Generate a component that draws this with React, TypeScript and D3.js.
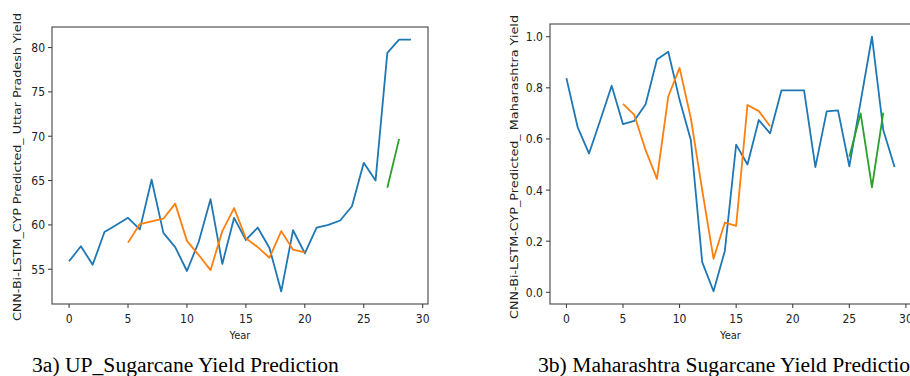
import React, { useEffect, useRef } from "react";
import * as d3 from "d3";

// Uttar Pradesh panel
const upActual = [
  55.9, 57.6, 55.5, 59.2, 60.0, 60.8, 59.5, 65.1, 59.1, 57.5, 54.8, 58.1,
  62.9, 55.6, 60.8, 58.3, 59.7, 57.4, 52.5, 59.4, 56.8, 59.7, 60.0, 60.5,
  62.1, 67.0, 65.0, 79.4, 80.9, 80.9,
];
const upTrain = [
  58.0, 60.1, 60.4, 60.7, 62.4, 58.2, 56.6, 54.9, 59.3, 61.9, 58.5, 57.5,
  56.3, 59.3, 57.2, 56.9,
];
const upTrainStart = 5;
const upTest = [64.2, 69.7];
const upTestStart = 27;
const upTicksY = [55, 60, 65, 70, 75, 80];

// Maharashtra panel
const mhActual = [
  0.838, 0.645, 0.543, 0.674, 0.808, 0.658, 0.671, 0.736, 0.911, 0.941,
  0.753, 0.595, 0.118, 0.004, 0.162, 0.578, 0.5, 0.674, 0.622, 0.79, 0.79,
  0.79, 0.49, 0.708, 0.712, 0.493, 0.746, 1.0, 0.635, 0.49,
];
const mhTrain = [
  0.737, 0.694, 0.556, 0.444, 0.766, 0.878, 0.68, 0.4, 0.131, 0.273, 0.26,
  0.733, 0.709, 0.65,
];
const mhTrainStart = 5;
const mhTest = [0.53, 0.7, 0.411, 0.703];
const mhTestStart = 25;
const mhTicksY = [0.0, 0.2, 0.4, 0.6, 0.8, 1.0];

const xTicks = [0, 5, 10, 15, 20, 25, 30];

interface PanelSpec {
  left: number;
  right: number;
  top: number;
  bottom: number;
  actual: number[];
  train: number[];
  trainStart: number;
  test: number[];
  testStart: number;
  yTicks: number[];
  yFormat: (v: number) => string;
  yLabel: string;
  yLabelX: number;
  yLabelLen: number;
  caption: string;
  captionX: number;
}

const panels: PanelSpec[] = [
  {
    left: 52,
    right: 428,
    top: 27,
    bottom: 304,
    actual: upActual,
    train: upTrain,
    trainStart: upTrainStart,
    test: upTest,
    testStart: upTestStart,
    yTicks: upTicksY,
    yFormat: (v) => String(v),
    yLabel: "CNN-Bi-LSTM_CYP Predicted_ Uttar Pradesh Yield",
    yLabelX: 17,
    yLabelLen: 308,
    caption: "3a) UP_Sugarcane Yield Prediction",
    captionX: 32,
  },
  {
    left: 550,
    right: 911,
    top: 24,
    bottom: 304,
    actual: mhActual,
    train: mhTrain,
    trainStart: mhTrainStart,
    test: mhTest,
    testStart: mhTestStart,
    yTicks: mhTicksY,
    yFormat: (v) => v.toFixed(1),
    yLabel: "CNN-Bi-LSTM-CYP_Predicted_ Maharashtra Yield",
    yLabelX: 514,
    yLabelLen: 304,
    caption: "3b) Maharashtra Sugarcane Yield Prediction",
    captionX: 538,
  },
];

const tickFont = "'DejaVu Sans', sans-serif";

export default function App() {
  const svgRef = useRef<SVGSVGElement>(null);

  useEffect(() => {
    if (!svgRef.current) return;
    const svg = d3.select(svgRef.current);
    svg.selectAll("*").remove();

    panels.forEach((p) => {
      const g = svg.append("g");
      const all = [...p.actual, ...p.train, ...p.test];
      const [lo, hi] = d3.extent(all) as [number, number];
      const pad = (hi - lo) * 0.05;
      const n = p.actual.length - 1;
      const x = d3
        .scaleLinear()
        .domain([-n * 0.05, n * 1.05])
        .range([p.left, p.right]);
      const y = d3
        .scaleLinear()
        .domain([lo - pad, hi + pad])
        .range([p.bottom, p.top]);

      const line = d3
        .line<[number, number]>()
        .x((d) => x(d[0]))
        .y((d) => y(d[1]));

      const series = [
        { vals: p.actual, start: 0, color: "#1f77b4" },
        { vals: p.train, start: p.trainStart, color: "#ff7f0e" },
        { vals: p.test, start: p.testStart, color: "#2ca02c" },
      ];
      series.forEach((s) => {
        g.append("path")
          .attr("d", line(s.vals.map((v, i) => [s.start + i, v])))
          .attr("fill", "none")
          .attr("stroke", s.color)
          .attr("stroke-width", 1.8)
          .attr("stroke-linejoin", "round");
      });

      // axes box
      g.append("rect")
        .attr("x", p.left)
        .attr("y", p.top)
        .attr("width", p.right - p.left)
        .attr("height", p.bottom - p.top)
        .attr("fill", "none")
        .attr("stroke", "#333")
        .attr("stroke-width", 1);

      xTicks.forEach((t) => {
        g.append("line")
          .attr("x1", x(t))
          .attr("x2", x(t))
          .attr("y1", p.bottom)
          .attr("y2", p.bottom + 4)
          .attr("stroke", "#333");
        g.append("text")
          .attr("x", x(t))
          .attr("y", p.bottom + 19)
          .attr("text-anchor", "middle")
          .attr("font-family", tickFont)
          .attr("font-stretch", "condensed")
          .attr("font-size", 12)
          .attr("fill", "#222")
          .text(t);
      });

      p.yTicks.forEach((t) => {
        g.append("line")
          .attr("x1", p.left - 4)
          .attr("x2", p.left)
          .attr("y1", y(t))
          .attr("y2", y(t))
          .attr("stroke", "#333");
        g.append("text")
          .attr("x", p.left - 7)
          .attr("y", y(t) + 4.5)
          .attr("text-anchor", "end")
          .attr("font-family", tickFont)
          .attr("font-stretch", "condensed")
          .attr("font-size", 12)
          .attr("fill", "#222")
          .text(p.yFormat(t));
      });

      g.append("text")
        .attr("x", (p.left + p.right) / 2)
        .attr("y", p.bottom + 35)
        .attr("text-anchor", "middle")
        .attr("font-family", tickFont)
        .attr("font-stretch", "condensed")
        .attr("font-size", 11)
        .attr("fill", "#222")
        .text("Year");

      const cy = 167;
      g.append("text")
        .attr("transform", `translate(${p.yLabelX + 4},${cy}) rotate(-90)`)
        .attr("text-anchor", "middle")
        .attr("font-family", tickFont)
        .attr("font-size", 11)
        .attr("fill", "#222")
        .attr("textLength", p.yLabelLen)
        .attr("lengthAdjust", "spacingAndGlyphs")
        .text(p.yLabel);

      g.append("text")
        .attr("x", p.captionX)
        .attr("y", 372)
        .attr("font-family", "'Liberation Serif', 'Times New Roman', serif")
        .attr("font-size", 21.6)
        .attr("fill", "#000")
        .text(p.caption);
    });
  }, []);

  return (
    <svg
      ref={svgRef}
      width={910}
      height={376}
      style={{ position: "absolute", left: 0, top: 0, background: "#fff" }}
    />
  );
}
